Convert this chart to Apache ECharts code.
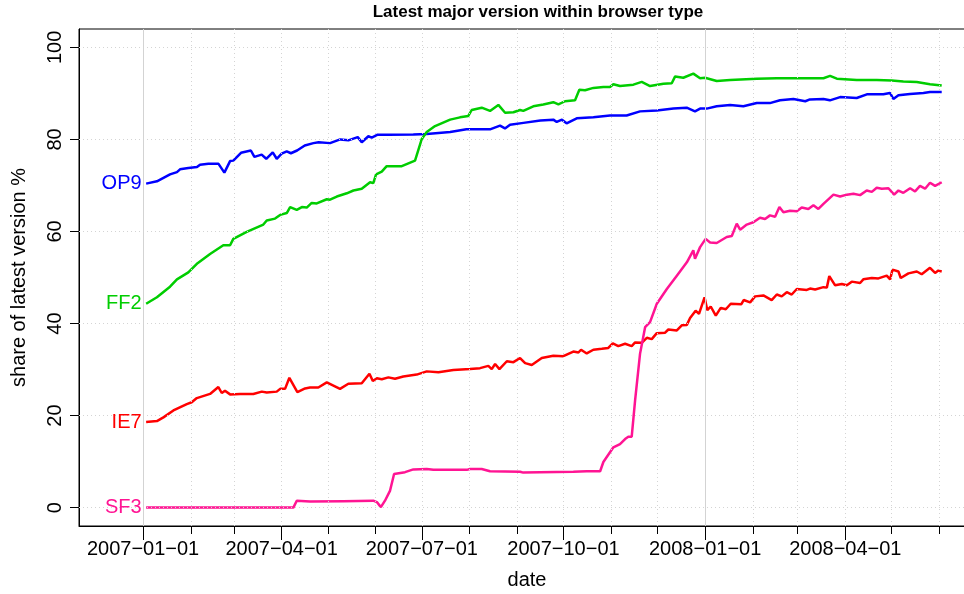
<!DOCTYPE html>
<html>
<head>
<meta charset="utf-8">
<script src="https://cdn.jsdelivr.net/npm/echarts@6/dist/echarts.min.js"></script>
<style>html,body{margin:0;padding:0;background:#fff}#c{width:964px;height:594px}</style>
</head>
<body>
<div id="c"></div>
<script>
// x values: days since 2007-01-01 ; y values: share of latest version %
const op9 = [[2,70.4],[9,70.9],[17.5,72.4],[22,72.9],[24,73.5],[29.4,73.8],[35,74.0],[37,74.5],[42.4,74.7],[49,74.7],[52.8,72.8],[56.5,75.3],[58.6,75.4],[63.6,77.1],[70,77.6],[72.3,76.2],[77,76.7],[80,75.8],[84.2,77.2],[86.8,75.8],[90,76.9],[93.3,77.4],[96,77.0],[100,77.6],[105,78.7],[110.6,79.2],[114,79.4],[121.4,79.2],[128,80.0],[133.3,79.8],[139.4,80.5],[142,79.4],[146.3,80.7],[148.5,80.4],[152,81.0],[159.3,81.0],[175.5,81.1],[184.2,81.2],[199.4,81.6],[210,82.2],[225.3,82.2],[231.8,83.0],[235,82.4],[238.3,83.2],[247,83.6],[258,84.1],[266.4,84.3],[268.6,83.8],[272,84.3],[275,83.5],[281.6,84.6],[292.4,84.8],[303.2,85.2],[314,85.2],[322.7,86.1],[333.6,86.3],[344.4,86.7],[353,86.9],[358.4,86.1],[361.7,86.7],[366,86.7],[372.5,87.2],[381.2,87.5],[389.8,87.2],[398.5,87.9],[407,87.9],[413.6,88.5],[422.3,88.8],[430,88.3],[433,88.7],[441.8,88.8],[446,88.5],[452.6,89.2],[463.4,89.0],[470,89.8],[480.7,89.8],[485,90.1],[487.2,88.8],[490.5,89.6],[498,89.9],[506.7,90.1],[511,90.3],[518.6,90.3]];
const ff2 = [[2,44.3],[9,45.7],[17.5,48.0],[22,49.6],[29.4,51.1],[35.4,53.1],[43.5,55.1],[52.1,57.0],[56.5,57.0],[58.6,58.4],[67.3,59.9],[78.1,61.5],[80.3,62.4],[85.7,62.8],[89,63.6],[93.3,64.0],[95.5,65.3],[99.8,64.7],[103.1,65.3],[106.3,65.2],[109.5,66.2],[112.8,66.1],[119.3,67.0],[121.4,66.9],[125.8,67.6],[132.3,68.3],[136.6,68.9],[142,69.3],[147.4,70.7],[149.5,70.5],[151.3,72.4],[155,73.0],[158.2,74.2],[162.5,74.2],[168,74.2],[176.6,75.4],[181,80.1],[184.2,81.6],[189.6,82.9],[199.4,84.3],[205.8,84.8],[211.2,85.1],[213.4,86.4],[219.9,86.9],[225.3,86.2],[230.7,87.5],[235.1,85.8],[240.5,85.9],[244.8,86.4],[246.9,86.2],[253.4,87.2],[259.9,87.6],[266.4,88.1],[269.7,87.6],[274,88.3],[280.5,88.5],[283.3,90.8],[287,90.7],[292.4,91.2],[298.9,91.4],[303.2,91.4],[305.4,92.0],[309.7,91.6],[318.4,91.9],[323.8,92.5],[329.2,91.6],[337.9,92.1],[343.3,92.2],[345.5,93.7],[350.8,93.4],[357.3,94.3],[361.7,93.3],[364.9,93.4],[372.5,92.7],[381.2,92.9],[398.5,93.2],[411.5,93.3],[426.6,93.3],[441.8,93.3],[446.1,93.8],[450.5,93.2],[463.4,92.9],[476.4,92.9],[486.2,92.8],[493.7,92.6],[502.4,92.5],[511,92.0],[518.6,91.7]];
const ie7 = [[2,18.6],[9,18.8],[13.2,19.6],[19.7,21.1],[28.4,22.5],[31.6,22.9],[34.9,23.8],[43.5,24.7],[48.9,26.2],[51.1,24.9],[53.2,25.4],[56.5,24.6],[63,24.7],[71.6,24.7],[77.1,25.2],[80.3,25.0],[86.8,25.2],[89,25.8],[92.2,25.8],[95,28.2],[100.2,25.1],[105.2,25.9],[108.4,26.1],[113.8,26.1],[119.3,27.2],[127.9,25.8],[133.3,26.9],[142,27.0],[147,29.1],[149.2,27.5],[151.8,28.1],[155,27.9],[159.3,28.3],[163.6,28.0],[169,28.5],[177.7,28.9],[184.2,29.6],[191.8,29.4],[201.5,29.9],[212.3,30.1],[218.8,30.3],[224.2,30.8],[226.4,30.1],[228.6,31.2],[231.4,30.1],[236.2,31.8],[240.5,31.6],[244.8,32.5],[248.1,31.4],[252.4,31.0],[258.9,32.5],[266.4,33.0],[272.9,32.9],[279.4,33.9],[282.7,33.7],[284.4,34.3],[288.1,33.5],[292.4,34.3],[297.9,34.5],[302.1,34.7],[305,35.7],[308.6,35.1],[313,35.6],[317.3,35.1],[319.5,35.9],[323.8,35.8],[327.1,36.9],[330.3,36.6],[333.6,37.9],[339,38.0],[341.1,38.7],[346.6,38.5],[349.8,39.6],[353.1,39.7],[355.2,41.2],[358.8,42.8],[361,42.1],[364.6,45.7],[366.4,42.9],[368.6,43.7],[371.9,41.7],[375.1,43.4],[378.4,43.1],[381.6,44.3],[388.5,44.2],[390,45.1],[394.2,44.6],[397.4,45.9],[402.8,46.1],[408.2,45.1],[411.5,46.3],[414.7,45.9],[418,46.8],[421.2,46.3],[424.5,47.5],[431,47.3],[433.1,47.6],[436.4,47.4],[441.8,47.9],[444,47.8],[445.6,50.3],[449.4,48.3],[453.7,48.6],[457,48.3],[460.2,49.1],[465.6,48.8],[467.7,49.6],[473.2,49.9],[477.5,49.8],[482.9,50.4],[485.1,49.6],[486.6,51.7],[490.5,51.3],[492,49.9],[497,50.9],[502.4,51.3],[505.6,50.7],[511,52.1],[514.3,51.0],[516.4,51.5],[518.6,51.3]];
const sf3 = [[2,0],[97.6,0],[99.8,1.5],[108.4,1.3],[130,1.4],[149.5,1.5],[151.8,1.2],[154.4,0.1],[157.1,1.5],[160.4,3.7],[163,7.3],[170.1,7.7],[175.5,8.3],[184.2,8.4],[188.5,8.2],[210.2,8.2],[212.3,8.4],[219.9,8.4],[225.3,7.9],[244.8,7.8],[246.9,7.6],[279.4,7.8],[288.1,7.9],[296.8,7.9],[298.9,9.9],[305.4,13.1],[309.7,13.8],[313,14.9],[315.1,15.4],[317.3,15.4],[319.5,23.3],[322.7,33.4],[326,39.2],[329.2,40.3],[333.6,44.3],[340.1,47.5],[346.6,50.4],[353.1,53.3],[357.3,55.9],[358.4,54.1],[361.7,56.6],[365.3,58.4],[368.2,57.6],[372.5,57.5],[379,58.8],[382.3,59.0],[385.5,61.7],[387.7,60.4],[392,61.5],[396.3,62.0],[400.6,63.0],[403.9,62.7],[407.1,63.5],[410.4,63.2],[413.2,65.3],[415.8,64.2],[420.1,64.5],[424.5,64.4],[427.7,65.2],[432,64.9],[435.3,65.7],[438.5,64.9],[441.8,66.0],[448.3,68.0],[452.6,67.6],[457,68.0],[461.3,68.2],[465.6,67.9],[469.9,68.9],[473.2,68.6],[476.4,69.5],[479.7,69.3],[484,69.4],[487.7,68.0],[490.5,68.9],[493.7,68.4],[498.1,69.4],[501.3,68.7],[504.5,69.9],[507.8,69.3],[511,70.6],[514.3,69.9],[518.6,70.7]];

const seriesNames = ['OP9', 'FF2', 'IE7', 'SF3'];
const yTicks = [0, 20, 40, 60, 80, 100];
const monthTicks = ['2007-01-01','2007-02-01','2007-03-01','2007-04-01','2007-05-01','2007-06-01','2007-07-01','2007-08-01','2007-09-01','2007-10-01','2007-11-01','2007-12-01','2008-01-01','2008-02-01','2008-03-01','2008-04-01','2008-05-01','2008-06-01'];
const quarterTicks = ['2007-01-01','2007-04-01','2007-07-01','2007-10-01','2008-01-01','2008-04-01'];
const yearLines = ['2007-01-01','2008-01-01'];
const xRangeDays = [-41.6, 554.5];
const yRange = [-4, 104];

const DAY = 864e5;
const T0 = Date.UTC(2007, 0, 1);
const dayOf = s => (Date.UTC(+s.slice(0, 4), +s.slice(5, 7) - 1, +s.slice(8, 10)) - T0) / DAY;
const pad = n => (n < 10 ? '0' : '') + n;
const fmt = v => { const d = new Date(T0 + Math.round(v) * DAY); return d.getUTCFullYear() + '\u2212' + pad(d.getUTCMonth() + 1) + '\u2212' + pad(d.getUTCDate()); };

const FONT = "'Liberation Sans', Arial, Helvetica, sans-serif";
const colors = ['#0000FF', '#00CD00', '#FF0000', '#FF1493'];
const datasets = [op9, ff2, ie7, sf3];

const baseX = {
  type: 'value', min: xRangeDays[0], max: xRangeDays[1], position: 'bottom', gridIndex: 0,
  splitLine: { show: false }, axisPointer: { show: false }
};

const lineSeries = datasets.map((d, i) => ({
  name: seriesNames[i], type: 'line', data: d, showSymbol: false, z: 3,
  lineStyle: { color: colors[i], width: 2.5 }, itemStyle: { color: colors[i] },
  animation: false,
  markPoint: {
    symbol: 'circle', symbolSize: 1, itemStyle: { color: 'rgba(0,0,0,0)' }, animation: false, silent: true,
    label: { show: true, position: 'left', distance: 4, formatter: seriesNames[i], color: colors[i], fontSize: 20, fontFamily: FONT },
    data: [{ coord: d[0] }]
  }
}));

const gridSeries = {
  type: 'line', data: [], z: 1, silent: true, animation: false,
  markLine: {
    silent: true, animation: false, symbol: ['none', 'none'], label: { show: false },
    lineStyle: { color: '#d4d4d4', type: [1, 3], width: 1 },
    data: [
      ...yTicks.map(v => ({ yAxis: v })),
      ...monthTicks.map(m => ({ xAxis: dayOf(m) })),
      ...yearLines.map(m => ({ xAxis: dayOf(m), lineStyle: { color: '#d3d3d3', type: 'solid', width: 1 } }))
    ]
  }
};

const chart = echarts.init(document.getElementById('c'), null, { renderer: 'canvas' });
chart.setOption({
  backgroundColor: '#fff',
  animation: false,
  textStyle: { fontFamily: FONT },
  grid: { left: 79, right: -33, top: 29, bottom: 68, outerBoundsMode: 'none', containLabel: false, show: true, borderColor: '#000', borderWidth: 1, backgroundColor: 'transparent' },
  graphic: [{
    type: 'text', x: 538, y: 12,
    style: { text: 'Latest major version within browser type', font: 'bold 17px ' + FONT, fill: '#000', align: 'center', verticalAlign: 'middle' }
  }],
  xAxis: [
    Object.assign({}, baseX, {
      axisLine: { show: true, onZero: false, lineStyle: { color: '#000', width: 1 } },
      axisTick: { show: true, length: 8, lineStyle: { color: '#000' }, customValues: monthTicks.map(dayOf) },
      axisLabel: { show: false }
    }),
    Object.assign({}, baseX, {
      axisLine: { show: false, onZero: false },
      axisTick: { show: true, length: 14, lineStyle: { color: '#000' }, customValues: quarterTicks.map(dayOf) },
      axisLabel: { show: true, customValues: quarterTicks.map(dayOf), formatter: fmt, fontSize: 20, color: '#000', margin: 13, fontFamily: FONT },
      name: 'date', nameLocation: 'middle', nameGap: 44,
      nameTextStyle: { fontSize: 20, color: '#000', fontFamily: FONT, padding: [0, 22, 0, 0] }
    })
  ],
  yAxis: {
    type: 'value', min: yRange[0], max: yRange[1],
    splitLine: { show: false },
    axisLine: { show: true, onZero: false, lineStyle: { color: '#000', width: 1 } },
    axisTick: { show: true, length: 9, lineStyle: { color: '#000' }, customValues: yTicks },
    axisLabel: { show: true, customValues: yTicks, rotate: 90, fontSize: 20, color: '#000', margin: 14, fontFamily: FONT },
    name: 'share of latest version %', nameLocation: 'middle', nameRotate: 90, nameGap: 50,
    nameTextStyle: { fontSize: 20, color: '#000', fontFamily: FONT }
  },
  series: [gridSeries, ...lineSeries]
});
</script>
</body>
</html>
